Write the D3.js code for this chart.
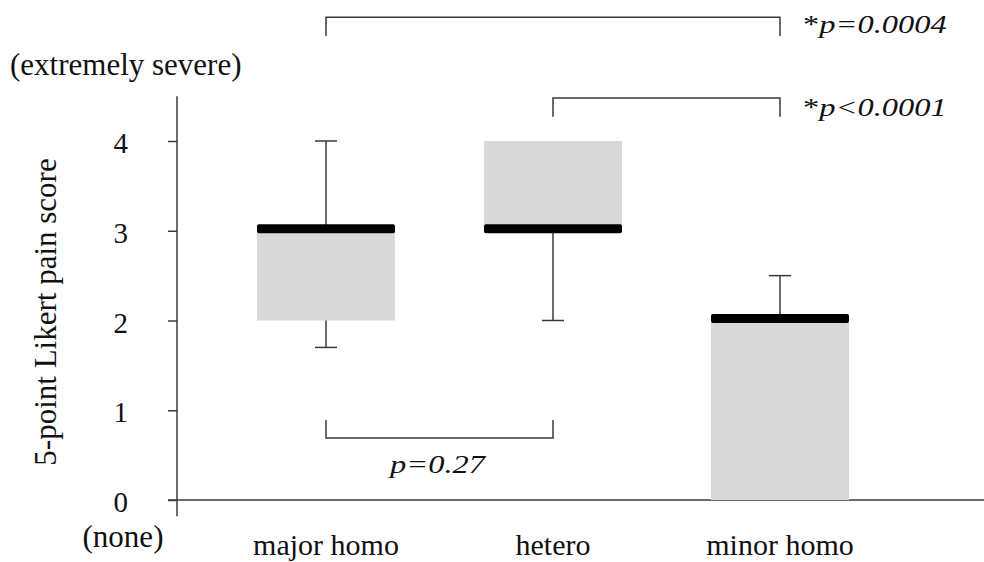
<!DOCTYPE html>
<html>
<head>
<meta charset="utf-8">
<script src="https://cdn.jsdelivr.net/npm/d3@7"></script>
<style>
  body { margin: 0; background: #fff; }
  svg text { font-family: "Liberation Serif", "Times New Roman", serif; }
</style>
</head>
<body>
<svg></svg>
<script>
// box plot values per genotype
const categories = ["major homo", "hetero", "minor homo"];
const whiskerLow = [1.7, 2, 0];
const q1 = [2, 3, 0];
const median = [3, 3, 2];
const q3 = [3, 4, 2];
const whiskerHigh = [4, 4, 2.5];
const yTicks = [0, 1, 2, 3, 4];

// pairwise comparisons
const pairs = [["major homo", "minor homo"], ["hetero", "minor homo"], ["major homo", "hetero"]];
const pLabels = ["p=0.0004", "p<0.0001", "p=0.27"];
const pStars = [true, true, false];

const width = 984, height = 562;
const serif = "Liberation Serif, serif";
const svg = d3.select("svg").attr("width", width).attr("height", height);

const x = d3.scalePoint().domain(categories).range([326, 780]);
const y = d3.scaleLinear().domain([0, 4]).range([500, 141]);
const boxW = 138;
const ink = "#3a3a3a";

const data = categories.map((c, i) => ({
	cat: c, lo: whiskerLow[i], q1: q1[i], med: median[i], q3: q3[i], hi: whiskerHigh[i]
}));

// axes
svg.append("line")
	.attr("x1", 168).attr("x2", width)
	.attr("y1", y(0)).attr("y2", y(0))
	.attr("stroke", ink).attr("stroke-width", 1.5);

svg.append("line")
	.attr("x1", 177).attr("x2", 177)
	.attr("y1", y(4.5)).attr("y2", y(-0.18))
	.attr("stroke", ink).attr("stroke-width", 1.5);

const yAxis = svg.append("g")
	.attr("transform", "translate(177,0)")
	.call(d3.axisLeft(y).tickValues(yTicks).tickSize(9).tickPadding(40).tickFormat(d3.format("d")));
yAxis.select(".domain").remove();
yAxis.selectAll(".tick line").attr("stroke", ink).attr("stroke-width", 1.5);
yAxis.selectAll(".tick text")
	.attr("font-family", serif)
	.attr("font-size", 29)
	.attr("fill", "#111")
	.attr("dy", "0.4em");

// boxes
const groups = svg.selectAll("g.box")
	.data(data)
	.enter()
	.append("g")
	.attr("class", "box");

groups.append("line")
	.attr("x1", (d) => x(d.cat)).attr("x2", (d) => x(d.cat))
	.attr("y1", (d) => y(d.hi)).attr("y2", (d) => y(d.lo))
	.attr("stroke", ink).attr("stroke-width", 1.5);

groups.filter((d) => d.hi > d.q3)
	.append("line")
	.attr("x1", (d) => x(d.cat) - 11).attr("x2", (d) => x(d.cat) + 11)
	.attr("y1", (d) => y(d.hi)).attr("y2", (d) => y(d.hi))
	.attr("stroke", ink).attr("stroke-width", 1.5);

groups.filter((d) => d.lo < d.q1)
	.append("line")
	.attr("x1", (d) => x(d.cat) - 11).attr("x2", (d) => x(d.cat) + 11)
	.attr("y1", (d) => y(d.lo)).attr("y2", (d) => y(d.lo))
	.attr("stroke", ink).attr("stroke-width", 1.5);

groups.append("rect")
	.attr("x", (d) => x(d.cat) - boxW / 2)
	.attr("width", boxW)
	.attr("y", (d) => y(d.q3))
	.attr("height", (d) => y(d.q1) - y(d.q3))
	.attr("fill", "#d9d9d9");

groups.append("rect")
	.attr("x", (d) => x(d.cat) - boxW / 2)
	.attr("width", boxW)
	.attr("y", (d) => y(d.med) - 6.5)
	.attr("height", 9)
	.attr("rx", 2)
	.attr("fill", "#000");

// category labels
svg.selectAll("text.cat")
	.data(categories)
	.enter()
	.append("text")
	.attr("class", "cat")
	.attr("x", (d) => x(d))
	.attr("y", 555)
	.attr("text-anchor", "middle")
	.attr("font-family", serif)
	.attr("font-size", 30)
	.attr("fill", "#111")
	.text((d) => d);

svg.append("text")
	.attr("x", 10).attr("y", 75)
	.attr("font-family", serif)
	.attr("font-size", 31)
	.attr("fill", "#111")
	.text("(extremely severe)");

svg.append("text")
	.attr("x", 123).attr("y", 547)
	.attr("text-anchor", "middle")
	.attr("font-family", serif)
	.attr("font-size", 31)
	.attr("fill", "#111")
	.text("(none)");

svg.append("text")
	.attr("transform", "translate(56,312) rotate(-90)")
	.attr("text-anchor", "middle")
	.attr("font-family", serif)
	.attr("font-size", 31)
	.attr("fill", "#111")
	.text("5-point Likert pain score");

// significance brackets
const bracketLevel = [5.38, 4.48, 0.69];
const bracketTip = [5.17, 4.27, 0.89];
const labelPos = [[803, 33], [803, 116], [390, 473]];

pairs.forEach((p, i) => {
	const x1 = x(p[0]), x2 = x(p[1]);
	const yl = y(bracketLevel[i]), yt = y(bracketTip[i]);
	svg.append("path")
		.attr("d", `M${x1},${yt}V${yl}H${x2}V${yt}`)
		.attr("fill", "none")
		.attr("stroke", ink)
		.attr("stroke-width", 1.5);

	const t = svg.append("text")
		.attr("transform", `translate(${labelPos[i][0]},${labelPos[i][1]}) scale(1.3,1)`)
		.attr("font-family", serif)
		.attr("font-size", 25)
		.attr("fill", "#111");
	if (pStars[i]) t.append("tspan").text("*");
	t.append("tspan").attr("font-style", "italic").text(pLabels[i]);
});
</script>
</body>
</html>
